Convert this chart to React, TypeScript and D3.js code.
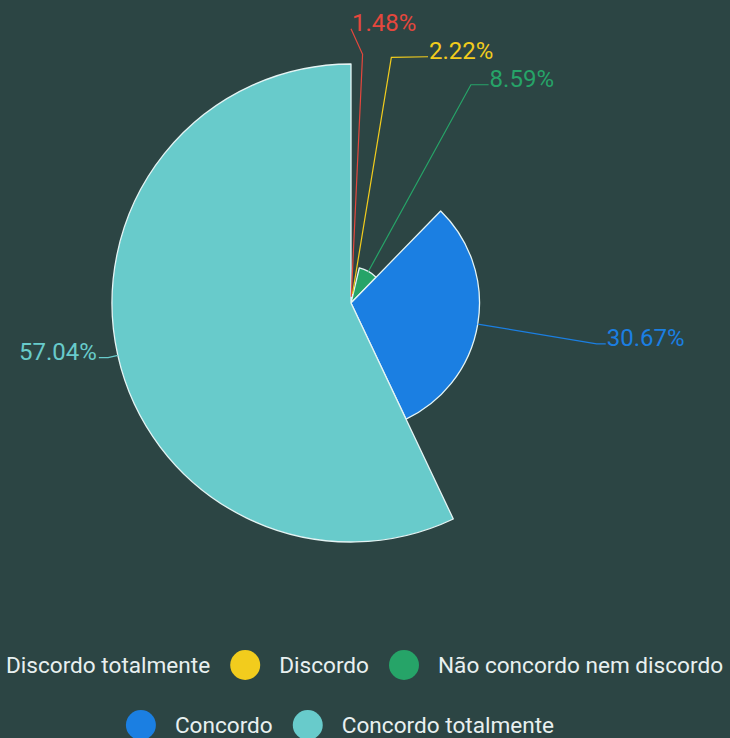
import { useEffect, useRef } from 'react';
import * as d3 from 'd3';

const categories = [
  'Discordo totalmente',
  'Discordo',
  'Não concordo nem discordo',
  'Concordo',
  'Concordo totalmente',
];
const percentages = [1.48, 2.22, 8.59, 30.67, 57.04];
const colors = ['#e5473d', '#f2cc1d', '#26a468', '#1b7fe2', '#68cbcb'];
const legendRows = [[0, 1, 2], [3, 4]];

const App = () => {
  const ref = useRef<SVGSVGElement | null>(null);

  useEffect(() => {
    if (!ref.current) return;
    document.body.style.margin = '0';
    const svg = d3.select(ref.current);
    svg.selectAll('*').remove();

    const width = 730;
    const height = 738;
    const cx = 351;
    const cy = 303;
    const maxR = 239;

    svg.append('rect').attr('width', width).attr('height', height).attr('fill', '#2c4544');

    // rose: radius grows with value
    const rScale = d3.scaleLinear()
      .domain([0, d3.max(percentages) || 1])
      .range([0, maxR]);

    const pie = d3.pie<number>().sort(null).value(d => d);
    const arcs = pie(percentages);

    const arc = d3.arc<d3.PieArcDatum<number>>()
      .innerRadius(0)
      .outerRadius(d => rScale(d.data));

    const g = svg.append('g').attr('transform', `translate(${cx},${cy})`);
    g.selectAll('path.slice')
      .data(arcs)
      .enter()
      .append('path')
      .attr('class', 'slice')
      .attr('d', arc)
      .attr('fill', (_, i) => colors[i])
      .attr('stroke', '#e4f4f4')
      .attr('stroke-width', 1.3)
      .attr('stroke-linejoin', 'round');

    // label lines
    const cornerR = maxR + 10;
    const ellR = 258;
    const gap = 28;
    const labels = arcs.map((a, i) => {
      const mid = (a.startAngle + a.endAngle) / 2;
      const r = rScale(a.data);
      const sx = cx + r * Math.sin(mid);
      const sy = cy - r * Math.cos(mid);
      const kx = cx + cornerR * Math.sin(mid);
      const ky = cy - cornerR * Math.cos(mid);
      return { i, mid, sx, sy, kx, ky, ey: ky, ex: 0, right: Math.sin(mid) >= 0 };
    });

    // push overlapping labels apart (upwards from the lowest one)
    [true, false].forEach(side => {
      const list = labels.filter(l => l.right === side).sort((a, b) => b.ey - a.ey);
      for (let k = 1; k < list.length; k++) {
        if (list[k - 1].ey - list[k].ey < gap) list[k].ey = list[k - 1].ey - gap;
      }
    });

    labels.forEach(l => {
      const dy = Math.abs(l.ey - cy);
      const f = dy >= ellR ? 0 : Math.sqrt(1 - (dy * dy) / (ellR * ellR));
      l.ex = cx + (l.right ? 1 : -1) * f * ellR;
    });

    const line = d3.line<[number, number]>();
    svg.selectAll('path.lbl-line')
      .data(labels)
      .enter()
      .append('path')
      .attr('class', 'lbl-line')
      .attr('d', l => line([[l.sx, l.sy], [l.kx, l.ky], [l.ex, l.ey]]))
      .attr('fill', 'none')
      .attr('stroke', l => colors[l.i])
      .attr('stroke-width', 1.2);

    svg.selectAll('text.lbl')
      .data(labels)
      .enter()
      .append('text')
      .attr('class', 'lbl')
      .attr('x', l => l.ex + (l.right ? 1 : -2))
      .attr('y', l => l.ey - 6)
      .attr('text-anchor', l => (l.right ? 'start' : 'end'))
      .attr('dominant-baseline', 'central')
      .attr('font-family', 'Roboto, sans-serif')
      .attr('font-size', 24)
      .attr('fill', l => colors[l.i])
      .text(l => `${percentages[l.i].toFixed(2)}%`);

    // legend
    const legendCx = 340;
    const rowY = [665, 725];
    const iconW = 30;
    const iconGap = 19;
    const itemGap = 20;
    legendRows.forEach((row, ri) => {
      const rowG = svg.append('g');
      const items = row.map(idx => {
        const t = rowG.append('text')
          .attr('font-family', 'Roboto, sans-serif')
          .attr('font-size', 22.6)
          .attr('fill', '#e8f0f0')
          .attr('dominant-baseline', 'central')
          .attr('y', rowY[ri])
          .text(categories[idx]);
        const w = (t.node() as SVGTextElement).getComputedTextLength();
        return { idx, t, w };
      });
      const total = d3.sum(items, d => iconW + iconGap + d.w) + itemGap * (items.length - 1);
      let x = legendCx - total / 2;
      items.forEach(it => {
        rowG.append('circle')
          .attr('cx', x + iconW / 2)
          .attr('cy', rowY[ri])
          .attr('r', 15)
          .attr('fill', colors[it.idx]);
        it.t.attr('x', x + iconW + iconGap);
        x += iconW + iconGap + it.w + itemGap;
      });
    });
  }, []);

  return <svg ref={ref} width={730} height={738} style={{ display: 'block' }} />;
};

export default App;
